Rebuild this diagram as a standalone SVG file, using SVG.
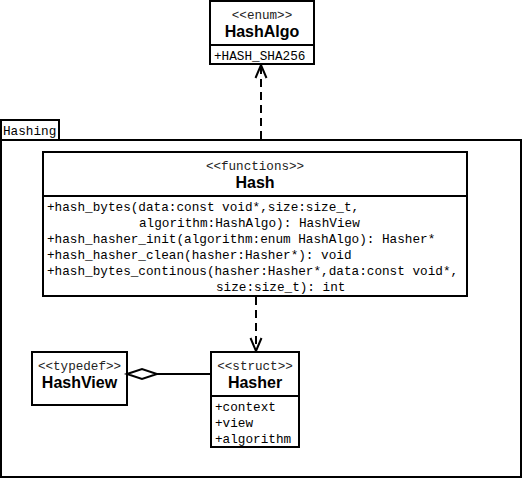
<svg xmlns="http://www.w3.org/2000/svg" width="525" height="480" viewBox="0 0 525 480">
<defs>
<style>
.box{fill:#fff;stroke:#000;stroke-width:2}
.ln{stroke:#000;stroke-width:2;fill:none}
.st{font-family:"Liberation Mono",monospace;font-size:12.6px;fill:#222;text-anchor:middle}
.ti{font-family:"Liberation Sans",Arial,sans-serif;font-weight:bold;font-size:16px;fill:#000;text-anchor:middle}
.mb{font-family:"Liberation Mono",monospace;font-size:12.7px;fill:#000;white-space:pre}
.dash{stroke:#000;stroke-width:2;fill:none;stroke-dasharray:8,5}
</style>
<marker id="open" markerWidth="16" markerHeight="14" refX="14" refY="7" orient="auto" markerUnits="userSpaceOnUse" viewBox="0 0 16 14">
<path d="M1,1.5 L14,7 L1,12.5" fill="none" stroke="#000" stroke-width="2"/>
</marker>
</defs>
<g id="pkg-Hashing">
<rect class="box" x="1" y="120" width="58" height="20"/>
<rect class="box" x="1" y="140" width="520" height="337"/>
<text class="mb" x="3" y="135">Hashing</text>
</g>
<g id="HashAlgo">
<rect class="box" x="210" y="1" width="104" height="63"/>
<line class="ln" x1="210" y1="45" x2="314" y2="45"/>
<text class="st" x="262" y="19">&lt;&lt;enum&gt;&gt;</text>
<text class="ti" x="262" y="37">HashAlgo</text>
<text class="mb" x="214" y="60">+HASH_SHA256</text>
</g>
<g id="Hash">
<rect class="box" x="43" y="152" width="424" height="144"/>
<line class="ln" x1="43" y1="196" x2="467" y2="196"/>
<text class="st" x="255" y="170">&lt;&lt;functions&gt;&gt;</text>
<text class="ti" x="255" y="188">Hash</text>
<text class="mb" x="47" y="211">+hash_bytes(data:const void*,size:size_t,</text>
<text class="mb" x="139" y="227">algorithm:HashAlgo): HashView</text>
<text class="mb" x="47" y="243">+hash_hasher_init(algorithm:enum HashAlgo): Hasher*</text>
<text class="mb" x="47" y="259">+hash_hasher_clean(hasher:Hasher*): void</text>
<text class="mb" x="47" y="275">+hash_bytes_continous(hasher:Hasher*,data:const void*,</text>
<text class="mb" x="216" y="291">size:size_t): int</text>
</g>
<g id="HashView">
<rect class="box" x="32" y="352" width="95" height="53"/>
<text class="st" x="79.5" y="370">&lt;&lt;typedef&gt;&gt;</text>
<text class="ti" x="79.5" y="388">HashView</text>
</g>
<g id="Hasher">
<rect class="box" x="211" y="352" width="88" height="95"/>
<line class="ln" x1="211" y1="396" x2="299" y2="396"/>
<text class="st" x="255" y="370">&lt;&lt;struct&gt;&gt;</text>
<text class="ti" x="255" y="388">Hasher</text>
<text class="mb" x="215" y="411">+context</text>
<text class="mb" x="215" y="427">+view</text>
<text class="mb" x="215" y="443">+algorithm</text>
</g>
<g id="connectors">
<line class="dash" x1="261" y1="139" x2="261" y2="65" marker-end="url(#open)"/>
<line class="dash" x1="256" y1="297" x2="256" y2="351" marker-end="url(#open)"/>
<line class="ln" x1="157" y1="374" x2="211" y2="374"/>
<path class="ln" d="M127,374 L142,369 L157,374 L142,379 Z" fill="#fff"/>
</g>
</svg>
